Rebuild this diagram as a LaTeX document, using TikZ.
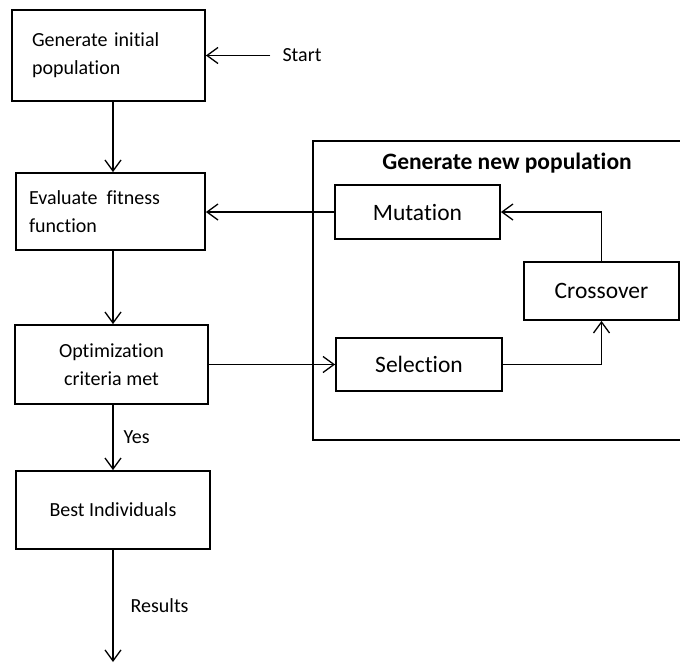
\documentclass[tikz,border=0pt]{standalone}
\usepackage{fontspec}
\setmainfont{Carlito}[Ligatures={NoCommon}]
\usetikzlibrary{positioning,arrows.meta}

\tikzset{
  box/.style={draw, line width=1.8pt, inner sep=0pt, font=\fontsize{20}{28}\selectfont},
  opbox/.style={draw, line width=1.8pt, inner sep=0pt, font=\fontsize{23.5}{28}\selectfont},
  arr/.style={line width=1.3pt, -{Straight Barb[length=11pt,width=16pt]}},
  lbl/.style={font=\fontsize{20}{24}\selectfont, inner sep=0pt}
}

\begin{document}
\begin{tikzpicture}[x=1pt,y=-1pt] % genetic algorithm loop

\clip (0,0) rectangle (680,664);

\node[box, minimum width=193pt, minimum height=91pt, text width=153pt, align=left] (init) at (108.5,55.5) {Generate initial\\population};
\node[box, minimum width=189pt, minimum height=77pt, text width=163pt, align=left] (eval) at (110.5,211.5) {Evaluate\hspace{9pt}fitness\\function};
\node[box, minimum width=193pt, minimum height=79pt, align=center] (opt) at (111.5,364.5) {Optimization\\criteria met};
\node[box, minimum width=194pt, minimum height=78pt] (best) at (113,510) {Best Individuals};
\node[lbl] (start) at (302,55.5) {Start};

\draw[line width=2.7pt] (700,141) -- (313,141) -- (313,440) -- (700,440);
\node[font=\bfseries\fontsize{23.5}{28}\selectfont] (newpop) at (507,163) {Generate new population};
\node[opbox, minimum width=165pt, minimum height=54pt] (mut) at (417.5,212) {Mutation};
\node[opbox, minimum width=155pt, minimum height=58pt] (cross) at (601.5,291) {Crossover};
\node[opbox, minimum width=166pt, minimum height=53pt] (sel) at (419,364.5) {Selection};

\coordinate (axis) at (113,0);
\coordinate (finish) at (113,662);

\draw[arr] ([xshift=-12pt]start.west) -- (init.east);
\draw[arr] (init.south -| axis) -- (eval.north -| axis);
\draw[arr] (eval.south -| axis) -- (opt.north -| axis);
\draw[arr] (opt.south -| axis) -- node[lbl, right=10pt] {Yes} (best.north -| axis);
\draw[arr] (best.south -| axis) -- node[lbl, right=17pt] {Results} (finish);
\draw[arr] (mut.west) -- (mut.west -| eval.east);
\draw[arr] (opt.east) -- (sel.west);
\draw[arr] (sel.east) -| (cross.south);
\draw[arr] (cross.north) |- (mut.east);

\end{tikzpicture}
\end{document}
